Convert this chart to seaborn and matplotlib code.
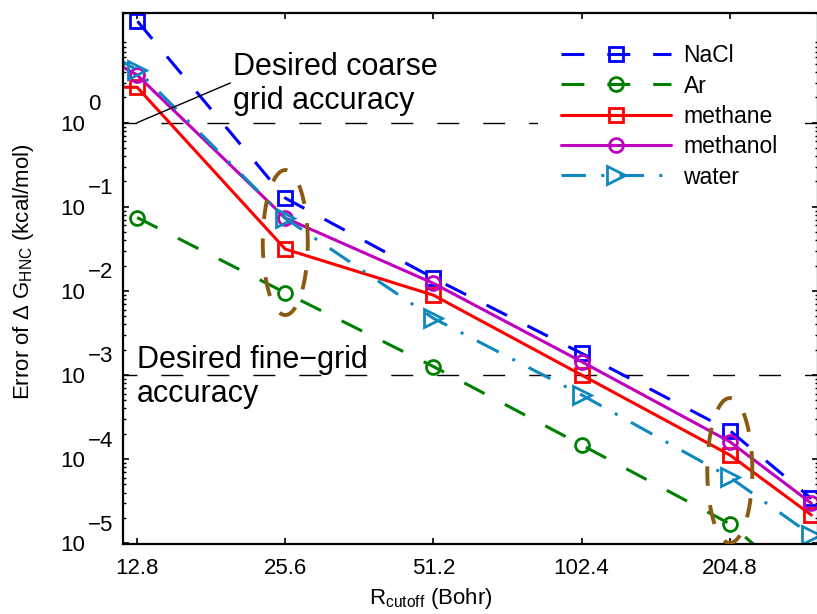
import numpy as np
import pandas as pd
import matplotlib
matplotlib.use("Agg")
import matplotlib.pyplot as plt
import matplotlib.transforms as mtransforms
from matplotlib.ticker import FixedLocator, NullLocator, LogLocator, NullFormatter
import seaborn as sns

# ---------------- data ----------------
r_cutoff = [6.4, 12.8, 25.6, 51.2, 102.4, 204.8, 300.0]
nacl = [152.0, 16.3, 0.127, 0.0142, 0.00181, 2.18e-4, 3.4e-5]
ar = [np.nan, 0.0746, 0.0095, 0.00126, 1.47e-4, 1.7e-5, 2.5e-6]
methane = [2.64, 2.64, 0.0314, 0.0089, 0.00100, 1.12e-4, 2.16e-5]
methanol = [37.0, 3.69, 0.0736, 0.0123, 0.00144, 1.61e-4, 2.98e-5]
water = [43.0, 4.24, 0.073, 0.00472, 5.8e-4, 6.08e-5, 1.25e-5]

series_names = ["NaCl", "Ar", "methane", "methanol", "water"]
series_values = [nacl, ar, methane, methanol, water]

x_ticks = [12.8, 25.6, 51.2, 102.4, 204.8]
x_tick_labels = ["12.8", "25.6", "51.2", "102.4", "204.8"]
y_major = [1e-5, 1e-4, 1e-3, 1e-2, 1e-1, 1e0]
y_exponents = ["\u22125", "\u22124", "\u22123", "\u22122", "\u22121", "0"]

coarse_level = 1.0
fine_level = 1e-3

# highlighted groups (centre x, centre log10 y)
highlight_x = [25.6, 204.8]
highlight_logy = [-1.425, -4.136]

# ---------------- styling ----------------
sns.set_theme(style="white")
plt.rcParams["font.family"] = ["Liberation Sans", "DejaVu Sans"]
plt.rcParams.update({
    "mathtext.fontset": "custom",
    "mathtext.rm": "Liberation Sans",
    "mathtext.it": "Liberation Sans:italic",
    "mathtext.bf": "Liberation Sans:bold",
    "text.color": "black",
    "axes.labelcolor": "black",
    "xtick.color": "black",
    "ytick.color": "black",
    "axes.edgecolor": "black",
})

styles = {
    "NaCl": dict(color="#0000FF", marker="s", ms=9.5, dashes=(7.5, 7.5)),
    "Ar": dict(color="#008000", marker="o", ms=10.0, dashes=(7.5, 7.5)),
    "methane": dict(color="#FF0000", marker="s", ms=9.5, dashes=None),
    "methanol": dict(color="#BF00BF", marker="o", ms=10.0, dashes=None),
    "water": dict(color="#0F87BF", marker=">", ms=13.0, dashes=(8, 5, 1, 5)),
}

fig = plt.figure(figsize=(8.17, 6.14), dpi=100)
ax = fig.add_axes([123.3 / 817, (614 - 544.3) / 614, (818 - 123.3) / 817, (544.3 - 13.3) / 614])
ax.set_xscale("log", base=2)
ax.set_yscale("log")

# reference accuracy lines
for lvl in (coarse_level, fine_level):
    ax.axhline(lvl, color="black", lw=1.0, linestyle=(5.8, (15.8, 17.3)), zorder=1)

handles = []
for name, vals in zip(series_names, series_values):
    st = styles[name]
    sub = pd.DataFrame({"R": r_cutoff, "err": vals})
    sns.lineplot(data=sub, x="R", y="err", ax=ax, color=st["color"],
                 marker=st["marker"], markersize=st["ms"],
                 markerfacecolor="none", markeredgecolor=st["color"],
                 markeredgewidth=2.0, linewidth=2.2, label=name,
                 estimator=None, errorbar=None, sort=False, zorder=2)
    line = ax.lines[-1]
    line.set_markeredgewidth(2.0)
    line.set_markerfacecolor("none")
    line.set_markeredgecolor(st["color"])
    if st["dashes"] is not None:
        line.set_dashes(st["dashes"])
    handles.append(line)

# dashed ellipses around highlighted groups
t = np.linspace(0, 2 * np.pi, 300)
for cx, cy in zip(highlight_x, highlight_logy):
    ex = 2 ** (np.log2(cx) + 0.152 * np.cos(t))
    ey = 10 ** (cy + 0.862 * np.sin(t))
    ax.plot(ex, ey, color="#8B5A12", lw=2.8, dashes=(5, 5), zorder=3)

ax.set_xlim(12.0, 309.4)
ax.set_ylim(9.7e-6, 20.0)

ax.xaxis.set_major_locator(FixedLocator(x_ticks))
ax.xaxis.set_minor_locator(NullLocator())
ax.set_xticklabels(x_tick_labels)
ax.yaxis.set_major_locator(FixedLocator(y_major))
ax.yaxis.set_minor_locator(LogLocator(base=10, subs=np.arange(2, 10), numticks=30))
ax.yaxis.set_minor_formatter(NullFormatter())
ax.set_yticklabels(["10"] * len(y_major))

ax.tick_params(which="both", direction="in", top=True, right=True,
               bottom=True, left=True, colors="black")
ax.tick_params(which="major", length=4.3, width=1.2, labelsize=16)
ax.tick_params(which="minor", length=2.2, width=1.0)
ax.tick_params(axis="y", which="major", pad=27.6)
ax.tick_params(axis="x", which="major", pad=10)

for sp in ax.spines.values():
    sp.set_linewidth(1.6)
    sp.set_color("black")

# exponents of y tick labels
offset = mtransforms.ScaledTranslation(-0.353, 0.18, fig.dpi_scale_trans)
trans = mtransforms.blended_transform_factory(ax.transAxes, ax.transData) + offset
for val, ex_txt in zip(y_major, y_exponents):
    ax.text(0, val, ex_txt, transform=trans, ha="left", va="center",
            fontsize=16, clip_on=False)

ax.set_xlabel(r"R$_{\mathrm{cutoff}}$ (Bohr)", fontsize=16)
ax.xaxis.set_label_coords(0.443, -0.0785)
ax.set_ylabel(r"Error of $\Delta$ G$_{\mathrm{HNC}}$ (kcal/mol)", fontsize=16)
ax.yaxis.set_label_coords(-0.125, 0.513)

# annotations
ax.annotate("", xy=(12.8, coarse_level), xytext=(19.8, 2.97),
            arrowprops=dict(arrowstyle="-", color="black", lw=1.0,
                            shrinkA=0, shrinkB=0))
ax.text(0.158, 0.928, "Desired coarse\ngrid accuracy", transform=ax.transAxes,
        ha="left", va="top", fontsize=22)
ax.text(0.0197, 0.376, "Desired fine\u2212grid\naccuracy", transform=ax.transAxes,
        ha="left", va="top", fontsize=22)

leg = ax.legend(handles=handles, labels=series_names, loc="upper right",
                bbox_to_anchor=(0.975, 0.985), borderaxespad=0, frameon=True,
                facecolor="white", edgecolor="none", framealpha=1, fancybox=False,
                fontsize=16.5, handlelength=4.8, handletextpad=0.55,
                labelspacing=0.32, borderpad=1.0, numpoints=1)
leg.set_zorder(5)

fig.savefig("out.png", dpi=100)
